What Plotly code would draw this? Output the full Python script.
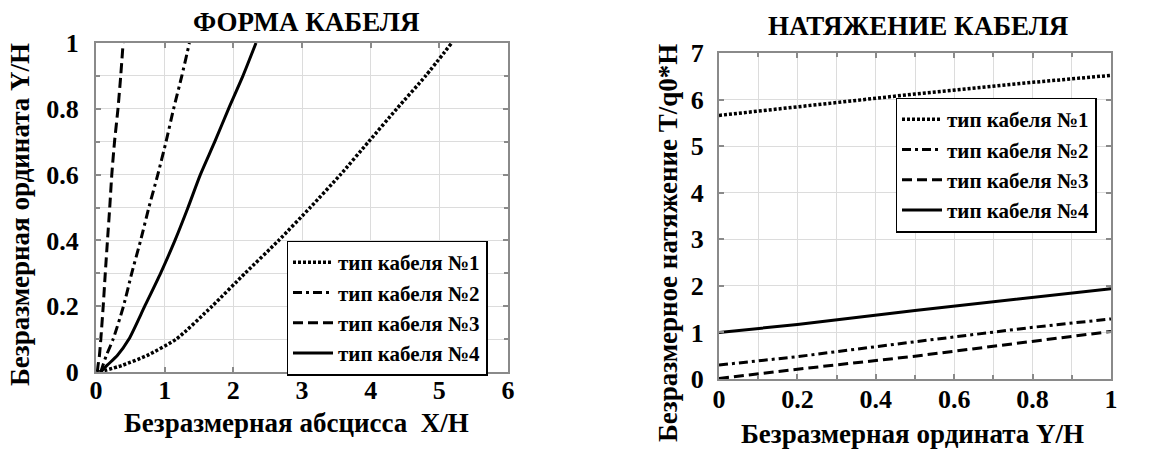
import plotly.graph_objects as go

# ---------------- data ----------------
series_names = ["тип кабеля №1", "тип кабеля №2", "тип кабеля №3", "тип кабеля №4"]

# Left chart: cable shape, Y/H levels and X/H of each cable type
shape_y = [0, 0.02, 0.05, 0.1, 0.2, 0.3, 0.4, 0.5, 0.6, 0.7, 0.8, 0.9, 1.0]
shape_x1 = [0.05, 0.38, 0.74, 1.17, 1.69, 2.17, 2.66, 3.12, 3.56, 3.97, 4.38, 4.80, 5.18]
shape_x2 = [0.07, 0.10, 0.15, 0.25, 0.40, 0.52, 0.65, 0.77, 0.90, 1.02, 1.13, 1.25, 1.36]
shape_x3 = [0.02, 0.03, 0.05, 0.07, 0.105, 0.135, 0.167, 0.20, 0.23, 0.27, 0.32, 0.36, 0.395]
shape_x4 = [0.07, 0.16, 0.31, 0.48, 0.71, 0.94, 1.15, 1.34, 1.52, 1.73, 1.93, 2.14, 2.33]

# Right chart: cable tension vs Y/H
tension_y = [0, 0.2, 0.5, 0.8, 1.0]
tension_t1 = [5.66, 5.85, 6.12, 6.37, 6.52]
tension_t2 = [0.30, 0.48, 0.80, 1.11, 1.29]
tension_t3 = [0.01, 0.21, 0.49, 0.80, 1.02]
tension_t4 = [1.00, 1.17, 1.47, 1.75, 1.94]

left_x_ticks = [0, 1, 2, 3, 4, 5, 6]
left_y_ticks = [0, 0.2, 0.4, 0.6, 0.8, 1]
right_x_ticks = [0, 0.2, 0.4, 0.6, 0.8, 1]
right_y_ticks = [0, 1, 2, 3, 4, 5, 6, 7]

# ---------------- styles ----------------
FONT = "Liberation Serif"
dashes = ["3px,2px", "9px,4px,3px,4px", "10px,5px", "solid"]
widths = [3.5, 3, 3, 3]
W, H = 1150, 450

fig = go.Figure()

shape_x = [shape_x1, shape_x2, shape_x3, shape_x4]
tension_t = [tension_t1, tension_t2, tension_t3, tension_t4]

for name, xs, d, w in zip(series_names, shape_x, dashes, widths):
    fig.add_trace(go.Scatter(x=xs, y=shape_y, mode="lines", name=name,
                             line=dict(color="black", width=w, dash=d, shape="spline", smoothing=0.6),
                             xaxis="x", yaxis="y", legend="legend"))
for name, ts, d, w in zip(series_names, tension_t, dashes, widths):
    fig.add_trace(go.Scatter(x=tension_y, y=ts, mode="lines", name=name,
                             line=dict(color="black", width=w, dash=d),
                             xaxis="x2", yaxis="y2", legend="legend2"))

def px_x(p):
    return p / W

def px_y(p):
    return 1 - p / H

grid = "#dcdcdc"
axcol = "#8a8a8a"
tickfont = dict(family=FONT, size=26, color="black", weight="bold")

common = dict(showline=True, linecolor=axcol, linewidth=2, mirror="ticks",
              ticks="inside", ticklen=5, tickcolor=axcol, tickwidth=1.5,
              showgrid=True, gridcolor=grid, gridwidth=1, zeroline=False,
              tickfont=tickfont, automargin=False)

legfont = dict(family=FONT, size=21, color="black", weight="bold")

fig.update_layout(
    width=W, height=H,
    margin=dict(l=0, r=0, t=0, b=0, autoexpand=False),
    font=dict(family=FONT, color="black"),
    paper_bgcolor="white", plot_bgcolor="white",
    showlegend=True,
    xaxis=dict(domain=[px_x(96), px_x(508)], range=[0, 6], tickvals=left_x_ticks,
               anchor="y", ticklabelstandoff=-6, **common),
    yaxis=dict(domain=[px_y(372), px_y(43)], range=[0, 1], tickvals=left_y_ticks,
               anchor="x", ticklabelstandoff=10,
               minor=dict(dtick=0.1, showgrid=True, gridcolor=grid, ticks="inside",
                          ticklen=4, tickcolor=axcol),
               **common),
    xaxis2=dict(domain=[px_x(719), px_x(1111)], range=[0, 1], tickvals=right_x_ticks,
                anchor="y2", ticklabelstandoff=-4,
                minor=dict(dtick=0.1, showgrid=True, gridcolor=grid, ticks="inside",
                           ticklen=4, tickcolor=axcol),
                **common),
    yaxis2=dict(domain=[px_y(379), px_y(53)], range=[0, 7], tickvals=right_y_ticks,
                anchor="x2", ticklabelstandoff=8, **common),
    legend=dict(x=px_x(387), y=px_y(308), xanchor="center", yanchor="middle",
                bgcolor="white", bordercolor="black", borderwidth=1.5,
                font=legfont, tracegroupgap=0, itemwidth=40),
    legend2=dict(x=px_x(996), y=px_y(165), xanchor="center", yanchor="middle",
                 bgcolor="white", bordercolor="black", borderwidth=1.5,
                 font=legfont, tracegroupgap=0, itemwidth=40),
)

def ann(text, x, y, size, angle=0):
    fig.add_annotation(text=text, x=px_x(x), y=px_y(y), xref="paper", yref="paper",
                       showarrow=False, textangle=angle, xanchor="center", yanchor="middle",
                       font=dict(family=FONT, size=size, color="black", weight="bold"))

ann("ФОРМА КАБЕЛЯ", 306, 22, 27)
ann("НАТЯЖЕНИЕ КАБЕЛЯ", 918, 26, 27)
ann("Безразмерная абсцисса  X/H", 296, 423, 27)
ann("Безразмерная ордината Y/H", 20, 215, 27, -90)
ann("Безразмерная ордината Y/H", 912, 434, 27)
ann("Безразмерное натяжение T/q0*H", 668, 243, 27, -90)

fig.write_html("out.html", config={"displayModeBar": False},
               post_script="document.body.style.margin='0';")
